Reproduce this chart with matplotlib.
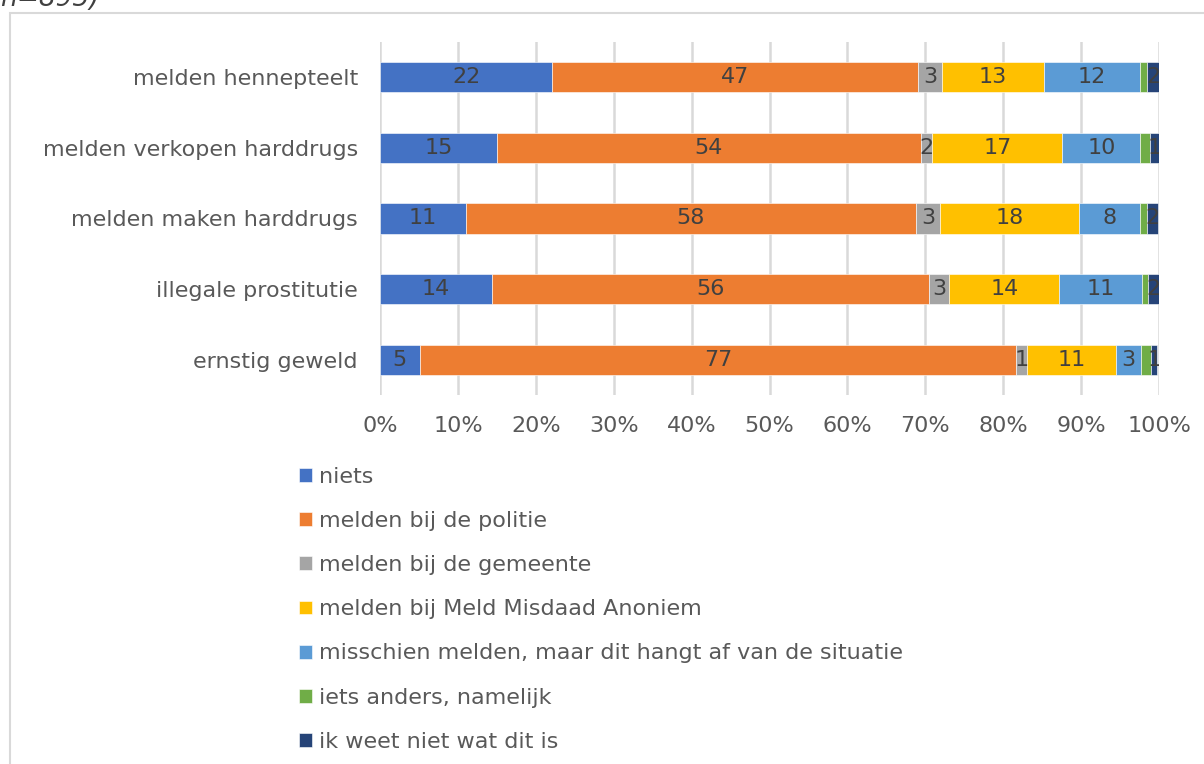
import numpy as np
import matplotlib
matplotlib.use('Agg')
from matplotlib import pyplot as plt
from matplotlib.patches import Rectangle

plt.rcParams['font.family'] = ['DejaVu Sans']

# categories, bottom to top as drawn
categories = ['ernstig geweld', 'illegale prostitutie', 'melden maken harddrugs',
              'melden verkopen harddrugs', 'melden hennepteelt']

series_names = ['niets', 'melden bij de politie', 'melden bij de gemeente',
                'melden bij Meld Misdaad Anoniem',
                'misschien melden, maar dit hangt af van de situatie',
                'iets anders, namelijk', 'ik weet niet wat dit is']

# percentages per series, same order as categories
niets = [5.1, 14.4, 11.0, 15.0, 22.1]
politie = [76.6, 56.1, 57.8, 54.4, 46.9]
gemeente = [1.4, 2.6, 3.1, 1.5, 3.2]
mma = [11.4, 14.1, 17.8, 16.7, 13.0]
misschien = [3.2, 10.6, 7.8, 10.0, 12.4]
iets_anders = [1.3, 0.8, 0.9, 1.2, 0.9]
weet_niet = [0.8, 1.5, 1.5, 1.2, 1.5]

colors = ['#4472C4', '#ED7D31', '#A5A5A5', '#FFC000', '#5B9BD5', '#70AD47', '#264478']
show_label = [True, True, True, True, True, False, True]

data = [niets, politie, gemeente, mma, misschien, iets_anders, weet_niet]

fs = 16

fig = plt.figure(figsize=(12.04, 7.64), dpi=100)
ax = fig.add_axes([380 / 1204, 1 - 395 / 764, (1159 - 380) / 1204, (395 - 42) / 764])

y = np.arange(len(categories))
left = np.zeros(len(categories))
for vals, name, col, lab in zip(data, series_names, colors, show_label):
    vals = np.array(vals)
    ax.barh(y, vals, left=left, height=0.425, color=col, label=name,
            edgecolor='white', linewidth=0.4, zorder=3)
    if lab:
        for yi, l, v in zip(y, left, vals):
            ax.text(l + v / 2, yi, '%d' % round(v), ha='center', va='center',
                    fontsize=fs, color='#404040', zorder=4, clip_on=True)
    left = left + vals

ax.set_xlim(0, 100)
ax.set_ylim(-0.5, 4.5)
ax.set_yticks(y)
ax.set_yticklabels(categories, fontsize=fs, color='#595959')
ax.set_xticks(np.arange(0, 101, 10))
ax.set_xticklabels(['%d%%' % t for t in range(0, 101, 10)], fontsize=fs, color='#595959')
ax.tick_params(length=0)
ax.tick_params(axis='x', pad=15)
ax.tick_params(axis='y', pad=16)
ax.grid(axis='x', color='#d9d9d9', linewidth=1.8, zorder=0)
for s in ax.spines.values():
    s.set_visible(False)

leg = fig.legend(loc='upper left', bbox_to_anchor=(299 / 1204, 1 - 467 / 764),
                 frameon=False, fontsize=fs, handlelength=0.58, handleheight=0.58,
                 handletextpad=0.3, labelspacing=1.085, borderpad=0, borderaxespad=0)
for t in leg.get_texts():
    t.set_color('#595959')

# chart border (cut off on the right and bottom)
fig.patches.append(Rectangle((10 / 1204, -0.05), 1.1, 1 - 13 / 764 + 0.05,
                             transform=fig.transFigure, fill=False,
                             edgecolor='#d9d9d9', linewidth=1.5))
fig.text(0, 1 - 6 / 764, 'n=895)', fontsize=19, style='italic',
         color='#404040', ha='left', va='baseline')

fig.savefig('out.png', dpi=100)
